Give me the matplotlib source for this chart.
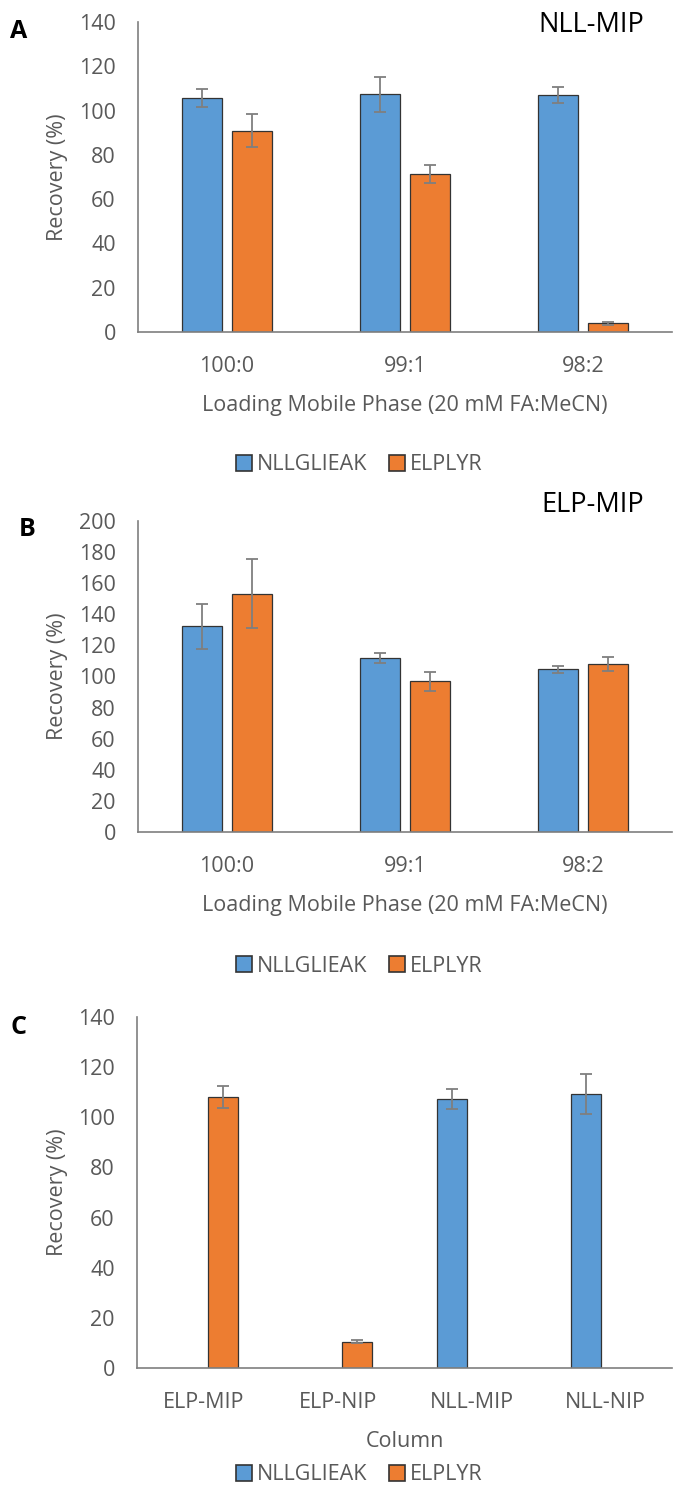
import matplotlib
matplotlib.use('Agg')
import matplotlib.pyplot as plt
import numpy as np
from matplotlib.lines import Line2D

plt.rcParams['font.family'] = ['Open Sans', 'DejaVu Sans']

# data
phases = ['100:0', '99:1', '98:2']
columns = ['ELP-MIP', 'ELP-NIP', 'NLL-MIP', 'NLL-NIP']

a_nll = [105.8, 107.3, 107.0]
a_nll_err = [4.0, 7.8, 3.8]
a_elp = [90.9, 71.4, 3.9]
a_elp_err = [7.5, 3.9, 0.7]

b_nll = [132.3, 111.9, 104.6]
b_nll_err = [14.3, 3.4, 2.4]
b_elp = [153.3, 96.9, 108.0]
b_elp_err = [22.0, 6.2, 4.4]

c_nll = [0, 0, 107.2, 109.3]
c_nll_err = [0, 0, 3.9, 7.9]
c_elp = [108.1, 10.4, 0, 0]
c_elp_err = [4.3, 0.6, 0, 0]

BLUE = '#5B9BD5'
ORANGE = '#ED7D31'
GREY = '#595959'
FS = 15.5

W, H = 673, 1485
fig = plt.figure(figsize=(W / 100, H / 100), dpi=100)


def px_axes(left, top, right, bottom):
    return fig.add_axes([left / W, 1 - bottom / H, (right - left) / W, (bottom - top) / H])


def bar_panel(ax, cats, nll, nll_err, elp, elp_err, ymax, step, xlabel):
    x = np.arange(len(cats))
    w = 0.225
    off = 0.143
    for vals, errs, col, dx in [(nll, nll_err, BLUE, -off), (elp, elp_err, ORANGE, off)]:
        keep = [i for i, v in enumerate(vals) if v > 0]
        ax.bar(x[keep] + dx, [vals[i] for i in keep], width=w, color=col,
               edgecolor='#333333', linewidth=0.9, zorder=2)
        ax.errorbar(x[keep] + dx, [vals[i] for i in keep], yerr=[errs[i] for i in keep],
                    fmt='none', ecolor='#7f7f7f', elinewidth=1.3, capsize=4,
                    capthick=1.3, zorder=3)
    ax.set_xlim(-0.5, len(cats) - 0.5)
    ax.set_ylim(0, ymax)
    ax.set_yticks(np.arange(0, ymax + 1, step))
    ax.set_xticks(x)
    ax.set_xticklabels(cats)
    ax.tick_params(length=0, labelsize=FS, colors=GREY)
    ax.tick_params(axis='y', pad=16)
    ax.tick_params(axis='x', pad=17)
    for s in ['top', 'right']:
        ax.spines[s].set_visible(False)
    for s in ['left', 'bottom']:
        ax.spines[s].set_color('#7f7f7f')
        ax.spines[s].set_linewidth(1.2)
    ax.set_xlabel(xlabel, fontsize=FS, color=GREY, labelpad=13)
    # y label placed by figure pixels
    bb = ax.get_position()
    fig.text(58 / W, (bb.y0 + bb.y1) / 2, 'Recovery (%)', rotation=90,
             fontsize=FS, color=GREY, ha='center', va='center')


def legend(y):
    handles = [Line2D([], [], marker='s', linestyle='none', markersize=12,
                      markerfacecolor=c, markeredgecolor='#333333', markeredgewidth=1.2)
               for c in (BLUE, ORANGE)]
    fig.legend(handles, ['NLLGLIEAK', 'ELPLYR'], loc='center',
               bbox_to_anchor=(358 / W, 1 - y / H), ncol=2, frameon=False,
               fontsize=FS, labelcolor=GREY, handletextpad=0.1, columnspacing=0.9,
               handlelength=1.0)


ax_a = px_axes(138, 22, 672, 332)
bar_panel(ax_a, phases, a_nll, a_nll_err, a_elp, a_elp_err, 140, 20,
          'Loading Mobile Phase (20 mM FA:MeCN)')
legend(465)

ax_b = px_axes(138, 521, 672, 832)
bar_panel(ax_b, phases, b_nll, b_nll_err, b_elp, b_elp_err, 200, 20,
          'Loading Mobile Phase (20 mM FA:MeCN)')
legend(966)

ax_c = px_axes(137, 1017, 672, 1368)
bar_panel(ax_c, columns, c_nll, c_nll_err, c_elp, c_elp_err, 140, 20, 'Column')
legend(1475)

fig.text(19 / W, 1 - 31 / H, 'A', fontsize=18, fontweight='bold', ha='center', va='center')
fig.text(27 / W, 1 - 530 / H, 'B', fontsize=18, fontweight='bold', ha='center', va='center')
fig.text(18 / W, 1 - 1028 / H, 'C', fontsize=18, fontweight='bold', ha='center', va='center')
fig.text(644 / W, 1 - 25 / H, 'NLL-MIP', fontsize=19.5, ha='right', va='center')
fig.text(644 / W, 1 - 505 / H, 'ELP-MIP', fontsize=19.5, ha='right', va='center')

fig.savefig('out.png', dpi=100)
